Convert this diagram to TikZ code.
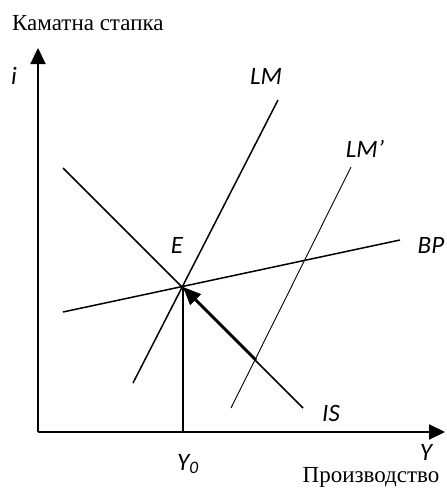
\documentclass[tikz,border=0pt]{standalone}
\usepackage{fontspec}
\setmainfont{Liberation Serif}
\newfontfamily\lblfont{Carlito}
\usetikzlibrary{positioning,arrows.meta}

\begin{document}
\begin{tikzpicture}[
		x=1pt, y=-1pt,
		axis/.style={line width=2.2pt, -{Triangle[length=16pt,width=15pt]}},
		curve/.style={line width=1.5pt},
		shifted/.style={line width=0.9pt},
		move/.style={line width=2.6pt, -{Triangle[length=18pt,width=15pt]}},
		lbl/.style={font=\lblfont\itshape\fontsize{25}{25}\selectfont, inner sep=0pt},
		txt/.style={font=\fontsize{23}{23}\selectfont, inner sep=0pt}
		]
		\useasboundingbox (0,0) rectangle (447,488);
		
		% Axes
		\coordinate (origin) at (38,432);
		\coordinate (itop) at (38,48);
		\coordinate (yend) at (445,432);
		\draw[axis] (origin) -- (itop);
		\draw[axis] (origin) -- (yend);
		
		% Curves
		\coordinate (E) at (183,287);
		\coordinate (lmlow) at (133,383);
		\coordinate (lmhigh) at (278,100);
		\coordinate (lmplow) at (231,408);
		\coordinate (lmphigh) at (351,167);
		\coordinate (islow) at (303,408);
		\coordinate (ishigh) at (63,168);
		\coordinate (bpleft) at (63,312);
		\coordinate (bpright) at (400,240);
		\coordinate (arrstart) at (256,360);
		\coordinate (Y0) at (183,432);
		
		\draw[curve] (lmlow) -- (lmhigh);
		\draw[shifted] (lmplow) -- (lmphigh);
		\draw[curve] (ishigh) -- (islow);
		\draw[curve] (bpleft) -- (bpright);
		\draw[curve] (E) -- (Y0);
		\draw[move] (arrstart) -- (E);
		
		% Labels
		\node[txt, anchor=base west] (rate) at (12,30) {Каматна стапка};
		\node[lbl] (ilbl) at (14,76) {i};
		\node[lbl] (lmlbl) at (266,76) {LM};
		\node[lbl] (lmplbl) at (365,149) {LM’};
		\node[lbl] (elbl) at (177,245) {E};
		\node[lbl] (bplbl) at (431,245) {BP};
		\node[lbl] (islbl) at (331,413) {IS};
		\node[lbl] (y0lbl) at (188,464) {Y\textsubscript{0}};
		\node[lbl] (ylbl) at (426,452) {Y};
		\node[txt, anchor=base] (output) at (371,482) {Производство};
		
	\end{tikzpicture}
\end{document}
